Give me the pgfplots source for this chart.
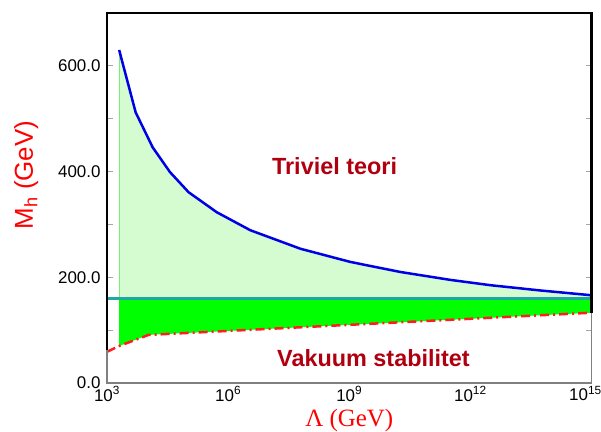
\documentclass[border=0pt]{standalone}
\usepackage{pgfplots}
\pgfplotsset{compat=1.18}
\usepackage{pgfplotstable}
\usepgfplotslibrary{fillbetween}
\usepackage{fontspec}
\setmainfont{Liberation Sans}
\newfontfamily\seriffont{Liberation Serif}

\definecolor{lightfill}{RGB}{212,252,208}
\definecolor{brightfill}{RGB}{0,255,0}
\definecolor{edgegreen}{RGB}{120,240,120}
\definecolor{curveblue}{RGB}{0,0,230}
\definecolor{tealline}{RGB}{30,168,160}
\definecolor{dashred}{RGB}{255,30,30}
\definecolor{textred}{RGB}{176,0,16}

% upper bound (triviality)
\pgfplotstableread{
x        y
2000     630
5130     512
13490    446
36300    399
104700   361
525000   323
3.55e6   289
6.17e7   254
1.07e9   229
1.86e10  210
3.24e11  195
3.16e12  185
5.5e13   175
1e15     166
}\upperdata

% lower bound (vacuum stability)
\pgfplotstableread{
x        y
1000     59
2000     70
10700    91
1e15     133
}\lowerdata

\begin{document}
\begin{tikzpicture}
\begin{axis}[
    scale only axis,
    width=484.5bp, height=370bp,
    xmode=log,
    xmin=1e3, xmax=1e15,
    ymin=0, ymax=700,
    clip=false,
    xtick={1e3,1e6,1e9,1e12,1e15},
    xticklabels={10\textsuperscript{3},10\textsuperscript{6},10\textsuperscript{9},10\textsuperscript{12},\hspace*{-12bp}10\textsuperscript{15}},
    xminorticks=false,
    every x tick/.style={draw=none},
    ytick={0,200,400,600},
    yticklabels={0.0,200.0,400.0,600.0},
    minor ytick={100,300,500},
    tick align=inside,
    major tick length=6bp, minor tick length=6bp,
    tick style={gray!70, line width=1bp},
    axis line style={draw=none},
    tick label style={font=\fontsize{17}{20}\selectfont},
    yticklabel style={xshift=-3bp},
  ]
  \addplot[name path=up, draw=none, forget plot] table[x=x, y=y] {\upperdata};
  \addplot[name path=mid, draw=none, forget plot] coordinates {(2000,160) (1e15,160)};
  \addplot[name path=lo, draw=none, forget plot] table[x=x, y=y] {\lowerdata};

  \addplot[lightfill] fill between[of=up and mid];
  \addplot[brightfill] fill between[of=mid and lo,
      soft clip={(axis cs:2000,0) rectangle (axis cs:1e15,700)}];

  \addplot[edgegreen, line width=1.2bp] coordinates {(2000,160) (2000,630)};
  \addplot[tealline, line width=3bp] coordinates {(1000,160) (1e15,160)};
  \addplot[curveblue, line width=2.5bp] table[x=x, y=y] {\upperdata};
  \addplot[dashred, line width=2.5bp, dash pattern=on 9bp off 4bp on 2bp off 4bp]
    table[x=x, y=y] {\lowerdata};

  % frame
  \draw[gray, line width=1.3bp] (rel axis cs:0,0.09) -- (rel axis cs:0,0) -- (rel axis cs:1,0) -- (rel axis cs:1,0.19);
  \draw[black, line width=2.5bp] (rel axis cs:0,0.09) -- (rel axis cs:0,1) -- (rel axis cs:1,1) -- (rel axis cs:1,0.19);

  \node[anchor=base, text=textred, font=\fontsize{23.5}{28}\selectfont\bfseries]
    at (axis cs:4.33e8,394) {Triviel teori};
  \node[anchor=base, text=textred, font=\fontsize{23.5}{28}\selectfont\bfseries]
    at (axis cs:3.98e9,30.8) {Vakuum stabilitet};

  \node[rotate=90, anchor=base, text=red, font=\fontsize{26}{30}\selectfont]
    at (rel axis cs:-0.153,0.562) {M\textsubscript{h} (GeV)};
  \node[anchor=base, text=red, font=\seriffont\fontsize{25}{30}\selectfont]
    at (rel axis cs:0.5,-0.118) {Λ (GeV)};

  \coordinate (SW) at (rel axis cs:0,0);
  \coordinate (NE) at (rel axis cs:1,1);
\end{axis}
\pgfresetboundingbox
\path[use as bounding box] ([shift={(-107bp,-49bp)}]SW) rectangle ([shift={(9.5bp,13bp)}]NE);
\end{tikzpicture}
\end{document}
